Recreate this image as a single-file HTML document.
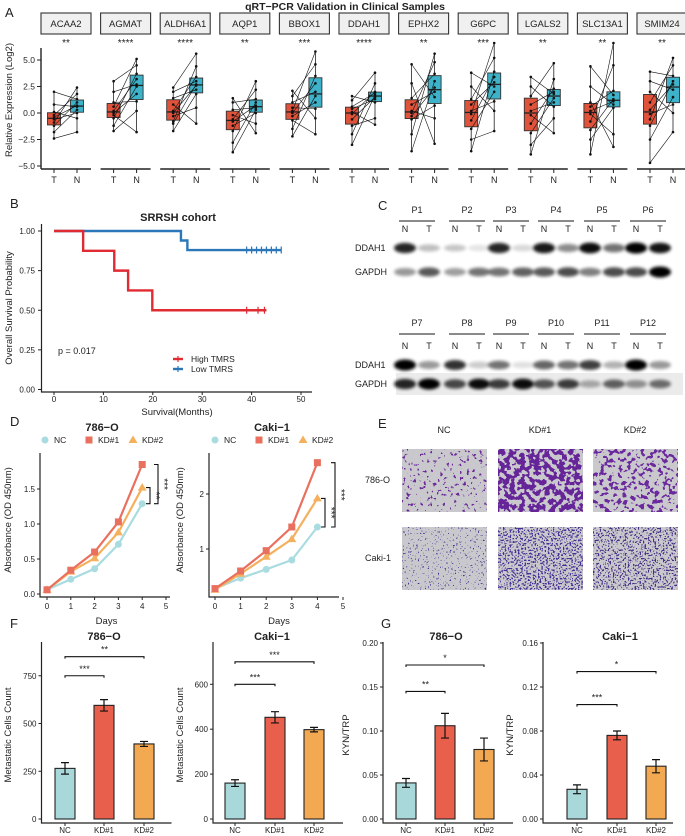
<!DOCTYPE html>
<html><head><meta charset="utf-8">
<style>
html,body{margin:0;padding:0;background:#fff;}
svg{display:block;font-family:"Liberation Sans",Arial,sans-serif;}
text{fill:#222;}
</style></head>
<body>
<svg id="fig" width="685" height="836" viewBox="0 0 685 836" xmlns="http://www.w3.org/2000/svg">
<defs>
<filter id="blur" x="-50%" y="-100%" width="200%" height="300%"><feGaussianBlur stdDeviation="1.5"/></filter>
<filter id="sp1" x="0" y="0" width="100%" height="100%" color-interpolation-filters="sRGB"><feTurbulence type="fractalNoise" baseFrequency="0.3" numOctaves="2" seed="3"/><feColorMatrix type="matrix" values="0 0 0 0 0.42 0 0 0 0 0.16 0 0 0 0 0.6 30 0 0 0 -19.5"/></filter>
<filter id="sp2" x="0" y="0" width="100%" height="100%" color-interpolation-filters="sRGB"><feTurbulence type="fractalNoise" baseFrequency="0.2" numOctaves="2" seed="5"/><feColorMatrix type="matrix" values="0 0 0 0 0.4 0 0 0 0 0.14 0 0 0 0 0.6 30 0 0 0 -14.1"/></filter>
<filter id="sp3" x="0" y="0" width="100%" height="100%" color-interpolation-filters="sRGB"><feTurbulence type="fractalNoise" baseFrequency="0.22" numOctaves="2" seed="7"/><feColorMatrix type="matrix" values="0 0 0 0 0.42 0 0 0 0 0.16 0 0 0 0 0.62 30 0 0 0 -16.8"/></filter>
<filter id="sp4" x="0" y="0" width="100%" height="100%" color-interpolation-filters="sRGB"><feTurbulence type="fractalNoise" baseFrequency="0.6" numOctaves="1" seed="9"/><feColorMatrix type="matrix" values="0 0 0 0 0.27 0 0 0 0 0.2 0 0 0 0 0.58 30 0 0 0 -19.5"/></filter>
<filter id="sp5" x="0" y="0" width="100%" height="100%" color-interpolation-filters="sRGB"><feTurbulence type="fractalNoise" baseFrequency="0.6" numOctaves="1" seed="11"/><feColorMatrix type="matrix" values="0 0 0 0 0.27 0 0 0 0 0.18 0 0 0 0 0.58 30 0 0 0 -16.5"/></filter>
<filter id="sp6" x="0" y="0" width="100%" height="100%" color-interpolation-filters="sRGB"><feTurbulence type="fractalNoise" baseFrequency="0.6" numOctaves="1" seed="13"/><feColorMatrix type="matrix" values="0 0 0 0 0.27 0 0 0 0 0.18 0 0 0 0 0.52 30 0 0 0 -16.8"/></filter>
</defs>
</svg>
<script>
// ---------- Panel A data ----------
const genes=["ACAA2","AGMAT","ALDH6A1","AQP1","BBOX1","DDAH1","EPHX2","G6PC","LGALS2","SLC13A1","SMIM24"];
const geneStars=["**","****","****","**","***","****","**","***","**","**","**"];
const tumorVals=[
[-2.4,-1.8,-1.2,-0.9,-0.6,-0.4,-0.2,0.1,0.8,2.0],
[-1.7,-1.2,-0.5,-0.2,0,0.2,0.6,1.0,2.0,3.0],
[-1.7,-1.0,-0.8,-0.3,0,0.2,0.8,1.4,2.0,2.4],
[-3.7,-2.8,-1.7,-1.2,-0.8,-0.6,-0.2,0.3,1.0,1.4],
[-2.2,-1.5,-0.7,-0.3,0,0.2,0.5,1.0,1.6,2.1],
[-3.0,-2.0,-1.2,-0.6,-0.1,0.1,0.4,0.6,1.2,1.6],
[-3.6,-2.0,-0.6,-0.3,0,0.2,0.8,1.4,2.8,4.6],
[-3.6,-2.5,-1.5,-0.7,-0.1,0.2,0.8,1.3,2.5,3.8],
[-3.9,-3.0,-1.9,-1.0,-0.2,0.2,0.8,1.6,2.5,3.4],
[-3.9,-2.5,-1.6,-0.8,-0.1,0.2,0.6,1.0,2.5,4.4],
[-4.7,-2.5,-1.2,-0.6,-0.1,0.3,1.0,2.0,3.0,3.9]];
const normalVals=[
[-1.8,-0.5,0.0,0.3,0.6,0.7,1.0,1.3,1.8,2.4],
[-1.8,0.2,1.1,1.8,2.5,2.7,3.2,3.7,4.5,5.1],
[-1.0,0.5,1.8,2.2,2.6,2.7,3.0,3.4,4.4,5.6],
[-1.9,-1.0,0,0.3,0.5,0.7,1.0,1.3,2.2,3.0],
[-2.0,-0.5,0.4,1.0,1.6,2.0,2.8,3.5,4.6,5.8],
[-1.1,-0.5,1.0,1.3,1.5,1.7,1.9,2.0,2.8,3.8],
[-2.9,-0.5,0.7,1.5,2.0,2.4,3.0,3.7,4.8,5.6],
[-1.7,0.2,1.1,2.0,2.5,2.9,3.4,3.9,5.2,6.6],
[-1.9,-0.5,0.6,1.0,1.4,1.8,2.0,2.3,3.2,4.7],
[-3.2,-2.0,0.5,0.8,1.1,1.3,1.7,2.1,4.5,6.6],
[-1.8,0,0.8,1.5,2.2,2.7,3.0,3.5,4.5,5.2]];
const aTicks=[5,2.5,0,-2.5,-5];
const aTickLabels=["5.0","2.5","0.0","\u22122.5","\u22125.0"];
// ---------- Panel B data ----------
const highTimes=[0,5.9,12.2,15,19.9,43];
const highSurv=[1,0.875,0.75,0.625,0.5,0.5];
const highCensor=[39,41.3,42.6];
const lowTimes=[0,25.7,27,46];
const lowSurv=[1,0.94,0.88,0.88];
const lowCensor=[39,40,41,42,43,44,45,46];
const bYTicks=[0,0.25,0.5,0.75,1];
const bYLabels=["0.00","0.25","0.50","0.75","1.00"];
const bXTicks=[0,10,20,30,40,50];
// ---------- Panel C data ----------
const blotTopLabels=["P1","P2","P3","P4","P5","P6"];
const blotBotLabels=["P7","P8","P9","P10","P11","P12"];
const ddahTop=[0.85,0.25,0.22,0.1,0.85,0.15,0.9,0.45,0.95,0.55,1,0.92];
const gapdhTop=[0.4,0.65,0.38,0.55,0.55,0.62,0.65,0.7,0.5,0.7,0.7,1];
const ddahBot=[1,0.4,0.8,0.2,0.55,0.12,0.6,0.55,0.75,0.3,1,0.4];
const gapdhBot=[0.85,1,0.7,0.95,0.75,0.95,0.65,0.75,0.3,0.6,0.4,0.55];
// ---------- Panel D data ----------
const days=[0,1,2,3,4];
const d786NC=[0.06,0.21,0.36,0.71,1.29];
const d786KD1=[0.06,0.34,0.60,1.03,1.85];
const d786KD2=[0.06,0.32,0.51,0.88,1.52];
const dCakiNC=[0.28,0.47,0.63,0.80,1.40];
const dCakiKD1=[0.28,0.60,0.97,1.40,2.57];
const dCakiKD2=[0.26,0.55,0.86,1.18,1.92];
// ---------- Panel F/G data ----------
const groups=["NC","KD#1","KD#2"];
const f786=[265,595,393]; const f786Err=[30,30,13];
const fCaki=[160,453,398]; const fCakiErr=[15,25,10];
const g786=[0.041,0.106,0.079]; const g786Err=[0.005,0.014,0.013];
const gCaki=[0.027,0.076,0.048]; const gCakiErr=[0.004,0.004,0.006];

const NS="http://www.w3.org/2000/svg";
const svg=document.getElementById('fig');
function mk(tag,a,p){const e=document.createElementNS(NS,tag);for(const k in a)e.setAttribute(k,a[k]);(p||svg).appendChild(e);return e;}
function tx(s,a,p){const e=mk('text',a,p);e.textContent=s;return e;}
function grp(p){return mk('g',{},p);}

// ===== Panel A =====
let t=tx("A",{x:5,y:17,"font-size":13});


t=tx("qRT\u2212PCR Validation in Clinical Samples",{x:345,y:10,"font-size":10.5,"font-weight":"bold","text-anchor":"middle"});


const yA=v=>113-v*10.6;
function q(arr,p){const s=[...arr].sort((a,b)=>a-b);const i=(s.length-1)*p;const lo=Math.floor(i),hi=Math.ceil(i);return s[lo]+(s[hi]-s[lo])*(i-lo);}
let ax=mk('line',{x1:41,y1:48,x2:41,y2:169,stroke:"#222","stroke-width":1.4});


aTicks.forEach((v,i)=>{
  const tk=mk('line',{x1:37,x2:41,y1:yA(v),y2:yA(v),stroke:"#222"});
  
  
  const tl=tx(aTickLabels[i],{x:35,y:yA(v)+3,"font-size":8.5,"text-anchor":"end",fill:"#444"});
  
  
});
t=tx("Relative Expression (Log2)",{x:12,y:100,"font-size":9.5,"text-anchor":"middle",transform:"rotate(-90 12 100)"});


genes.forEach((g,i)=>{
  const x0=41+i*59.6, xT=x0+13, xN=x0+36;
  const gg=grp();
  
  
  const st=mk('rect',{x:x0,y:13,width:50,height:21,fill:"#F0F0F0",stroke:"#333","stroke-width":1.1},gg);
  
  
  const sl=tx(g,{x:x0+25,y:27,"font-size":9.5,"text-anchor":"middle",fill:"#333"},gg);
  
  
  const ss=tx(geneStars[i],{x:x0+25,y:46,"font-size":10,"text-anchor":"middle"},gg);
  
  
  const bl=mk('line',{x1:x0,x2:x0+50,y1:169,y2:169,stroke:"#222","stroke-width":1.6},gg);
  
  
  [[xT,"T"],[xN,"N"]].forEach(([xx,l])=>{
    const tk=mk('line',{x1:xx,x2:xx,y1:169,y2:173,stroke:"#222"},gg);
    
    
    const lb=tx(l,{x:xx,y:183,"font-size":9,"text-anchor":"middle"},gg);
    
    
  });
  [[tumorVals[i],xT,"#E0533B","tumor"],[normalVals[i],xN,"#3DB2C9","normal"]].forEach(([vals,xc,col,nm])=>{
    const lo=Math.min(...vals),hi=Math.max(...vals),q1=q(vals,0.25),md=q(vals,0.5),q3=q(vals,0.75);
    const w=mk('line',{x1:xc,x2:xc,y1:yA(hi),y2:yA(lo),stroke:"#222","stroke-width":0.8},gg);
    
    
    const b=mk('rect',{x:xc-6.5,y:yA(q3),width:13,height:yA(q1)-yA(q3),fill:col,stroke:"#333","stroke-width":0.9},gg);
    
    
    const m=mk('line',{x1:xc-6.5,x2:xc+6.5,y1:yA(md),y2:yA(md),stroke:"#222","stroke-width":1.3},gg);
    
    
  });
  const tv=tumorVals[i], nv=normalVals[i];
  tv.forEach((v,k)=>{
    const nvv=nv[(k*3+i)%nv.length];
    const ln=mk('line',{x1:xT,y1:yA(v),x2:xN,y2:yA(nvv),stroke:"#111","stroke-width":0.6},gg);
    
    
    const p1=mk('circle',{cx:xT,cy:yA(v),r:1.3,fill:"#111"},gg);
    
    
    const p2=mk('circle',{cx:xN,cy:yA(nvv),r:1.3,fill:"#111"},gg);
    
    
  });
});

// ===== Panel B =====
const xB=m=>54+m*4.94, yB=s=>389.5-s*158.5;
t=tx("B",{x:10,y:208,"font-size":13});


t=tx("SRRSH cohort",{x:178,y:221,"font-size":11,"font-weight":"bold","text-anchor":"middle"});


ax=mk('path',{d:"M41.5,224 V392 H312",fill:"none",stroke:"#222","stroke-width":1.2});


bYTicks.forEach((v,i)=>{
  const tk=mk('line',{x1:38,x2:41.5,y1:yB(v),y2:yB(v),stroke:"#222"});
  
  
  const tl=tx(bYLabels[i],{x:35,y:yB(v)+3,"font-size":8,"text-anchor":"end",fill:"#444"});
  
  
});
bXTicks.forEach(v=>{
  const tk=mk('line',{x1:xB(v),x2:xB(v),y1:392,y2:395,stroke:"#222"});
  
  
  const tl=tx(String(v),{x:xB(v),y:402,"font-size":8,"text-anchor":"middle",fill:"#444"});
  
  
});
t=tx("Survival(Months)",{x:177,y:415,"font-size":9.5,"text-anchor":"middle"});


t=tx("Overall Survival Probability",{x:12,y:308,"font-size":9.5,"text-anchor":"middle",transform:"rotate(-90 12 308)"});


function stepPath(times,surv){let d=`M${xB(times[0])},${yB(surv[0])}`;for(let i=1;i<times.length;i++){d+=` H${xB(times[i])} V${yB(surv[i])}`;}return d;}
[[lowTimes,lowSurv,lowCensor,"#2B77B8","low-tmrs"],[highTimes,highSurv,highCensor,"#E02B33","high-tmrs"]].forEach(([tm,sv,cs,col,nm])=>{
  const c=mk('path',{d:stepPath(tm,sv),fill:"none",stroke:col,"stroke-width":2.4});
  
  
  const last=sv[sv.length-1];
  cs.forEach(m=>{
    const k=mk('line',{x1:xB(m),x2:xB(m),y1:yB(last)-3.5,y2:yB(last)+3.5,stroke:col,"stroke-width":1.2});
    
    
  });
});
t=tx("p = 0.017",{x:58,y:354,"font-size":9});


[["High TMRS","#E02B33",359],["Low TMRS","#2B77B8",369]].forEach(([l,c,y])=>{
  const lg=grp();
  
  
  mk('line',{x1:173,x2:183,y1:y,y2:y,stroke:c,"stroke-width":2.4},lg);
  mk('line',{x1:178,x2:178,y1:y-3,y2:y+3,stroke:c,"stroke-width":1.2},lg);
  tx(l,{x:191,y:y+3,"font-size":8.5},lg);
});

// ===== Panel C =====
t=tx("C",{x:378,y:210,"font-size":13});


const laneN=[405,455,499,544,590,636];
function blot(labels,ddah,gapdh,yLab,yNT,yD,yG,nm,shade){
  const bg=grp();
  
  
  if(shade) mk('rect',{x:396,y:yG-11,width:287,height:22,fill:"#EBEBEB"},bg);
  labels.forEach((l,i)=>{
    const cx=laneN[i]+12;
    tx(l,{x:cx,y:yLab,"font-size":9,"text-anchor":"middle"},bg);
    mk('line',{x1:cx-18,x2:cx+18,y1:yLab+8,y2:yLab+8,stroke:"#444","stroke-width":1.2},bg);
    tx("N",{x:laneN[i],y:yNT,"font-size":9,"text-anchor":"middle"},bg);
    tx("T",{x:laneN[i]+24,y:yNT,"font-size":9,"text-anchor":"middle"},bg);
  });
  tx("DDAH1",{x:355,y:yD+3,"font-size":9},bg);
  tx("GAPDH",{x:355,y:yG+3,"font-size":9},bg);
  [[ddah,yD,"ddah1-band"],[gapdh,yG,"gapdh-band"]].forEach(([arr,yy,bn])=>{
    arr.forEach((v,k)=>{
      const cx=laneN[Math.floor(k/2)]+(k%2)*24;
      const e=mk('ellipse',{cx:cx,cy:yy,rx:11,ry:3+v*2.5,fill:"#000",opacity:v,filter:"url(#blur)"},bg);
      
      
    });
  });
}
blot(blotTopLabels,ddahTop,gapdhTop,213,232,248,272,'western-blot-top',false);
blot(blotBotLabels,ddahBot,gapdhBot,326,349,365,384,'western-blot-bottom',true);

// ===== Panel D =====
t=tx("D",{x:10,y:426,"font-size":13});


const dCols={NC:"#A9DCE0",KD1:"#E9705F",KD2:"#F5B05E"};
function marker(type,x,y,col,p){
  if(type==0)return mk('circle',{cx:x,cy:y,r:3.5,fill:col},p);
  if(type==1)return mk('rect',{x:x-3.5,y:y-3.5,width:7,height:7,fill:col},p);
  return mk('path',{d:`M${x},${y-4.5} L${x+4.5},${y+3} L${x-4.5},${y+3}Z`,fill:col},p);
}
function growth(title,cx,axX,xf,yf,yTicks,yLabels,series,yTop,br,nm){
  const g=grp();
  
  
  tx(title,{x:cx,y:431,"font-size":11,"font-weight":"bold","text-anchor":"middle"},g);
  const leg=[["NC",0,dCols.NC],["KD#1",1,dCols.KD1],["KD#2",2,dCols.KD2]];
  leg.forEach(([l,ty,c],i)=>{
    const lx=cx-57+i*44;
    marker(ty,lx,440,c,g);
    tx(l,{x:lx+9,y:443,"font-size":8.5},g);
  });
  mk('path',{d:`M${axX},${yTop} V597 H${axX+130}`,fill:"none",stroke:"#222","stroke-width":1.2},g);
  yTicks.forEach((v,i)=>{
    mk('line',{x1:axX-3,x2:axX,y1:yf(v),y2:yf(v),stroke:"#222"},g);
    tx(yLabels[i],{x:axX-5,y:yf(v)+3,"font-size":8,"text-anchor":"end",fill:"#444"},g);
  });
  [0,1,2,3,4,5].forEach(d=>{
    mk('line',{x1:xf(d),x2:xf(d),y1:597,y2:600,stroke:"#222"},g);
    tx(String(d),{x:xf(d),y:609,"font-size":8,"text-anchor":"middle",fill:"#444"},g);
  });
  tx("Days",{x:xf(2.5),y:624,"font-size":9.5,"text-anchor":"middle"},g);
  series.forEach(([vals,ty,c,sn])=>{
    const pts=days.map((d,i)=>`${xf(d)},${yf(vals[i])}`).join(' ');
    const pl=mk('polyline',{points:pts,fill:"none",stroke:c,"stroke-width":2.2},g);
    
    
    days.forEach((d,i)=>{
      const mm=marker(ty,xf(d),yf(vals[i]),c,g);
      
      
    });
  });
  br.forEach(([bx,v1,v2,s])=>{
    const b=mk('path',{d:`M${bx-4},${yf(v1)} H${bx} V${yf(v2)} H${bx-4}`,fill:"none",stroke:"#111","stroke-width":1.1},g);
    
    
    const my=(yf(v1)+yf(v2))/2;
    tx(s,{x:bx+3,y:my,"font-size":10,"text-anchor":"middle",transform:`rotate(90 ${bx+3} ${my})`},g);
  });
}
const xD1=d=>47+d*23.8, yD1=v=>594-v*70;
growth("786\u2212O",102,40,xD1,yD1,[0,0.5,1,1.5],["0.0","0.5","1.0","1.5"],
  [[d786NC,0,dCols.NC,'nc'],[d786KD2,2,dCols.KD2,'kd2'],[d786KD1,1,dCols.KD1,'kd1']],453,
  [[158,d786KD1[4],d786NC[4],"***"],[150,d786KD2[4],d786NC[4],"**"]],'growth-786o');
t=tx("Absorbance (OD 450nm)",{x:11,y:520,"font-size":9.5,"text-anchor":"middle",transform:"rotate(-90 11 520)"});


const xD2=d=>215+d*25.6, yD2=v=>604-v*55;
growth("Caki\u22121",272,209,xD2,yD2,[1,2],["1","2"],
  [[dCakiNC,0,dCols.NC,'nc'],[dCakiKD2,2,dCols.KD2,'kd2'],[dCakiKD1,1,dCols.KD1,'kd1']],453,
  [[335,dCakiKD1[4],dCakiNC[4],"***"],[325,dCakiKD2[4],dCakiNC[4],"***"]],'growth-caki1');
t=tx("Absorbance (OD 450nm)",{x:183,y:520,"font-size":9.5,"text-anchor":"middle",transform:"rotate(-90 183 520)"});



// ===== Panel E =====
t=tx("E",{x:378,y:428,"font-size":13});


const eCols=[402,498,593], eRows=[449,527];
["NC","KD#1","KD#2"].forEach((l,i)=>{
  const c=tx(l,{x:eCols[i]+42,y:433,"font-size":9,"text-anchor":"middle"});
  
  
});
["786-O","Caki-1"].forEach((l,i)=>{
  const c=tx(l,{x:365,y:eRows[i]+34,"font-size":9});
  
  
});
const eFilters=[["sp1","sp2","sp3"],["sp4","sp5","sp6"]];
eRows.forEach((ry,r)=>eCols.forEach((cx,c)=>{
  const ig=grp();
  
  
  mk('rect',{x:cx,y:ry,width:85,height:63,fill:"#C9C8CC"},ig);
  mk('rect',{x:cx,y:ry,width:85,height:63,fill:"#000",filter:`url(#${eFilters[r][c]})`},ig);
}));

// ===== Panels F & G =====
const bCols=["#A8D8DA","#E8604C","#F3A952"];
function barChart(o){
  const g=grp();
  
  
  tx(o.title,{x:o.tx,y:640,"font-size":11,"font-weight":"bold","text-anchor":"middle"},g);
  mk('path',{d:`M${o.axX},642 V823 H${o.axX+130}`,fill:"none",stroke:"#222","stroke-width":1.2},g);
  o.ticks.forEach((v,i)=>{
    mk('line',{x1:o.axX-3,x2:o.axX,y1:o.yf(v),y2:o.yf(v),stroke:"#222"},g);
    tx(o.tickLabels[i],{x:o.axX-5,y:o.yf(v)+3,"font-size":8,"text-anchor":"end",fill:"#444"},g);
  });
  const yt=tx(o.yTitle,{x:o.ytX,y:735,"font-size":9.5,"text-anchor":"middle",transform:`rotate(-90 ${o.ytX} 735)`},g);
  
  
  groups.forEach((gr,i)=>{
    const cx=o.bx[i];
    const b=mk('rect',{x:cx-10,y:o.yf(o.vals[i]),width:20,height:o.yf(0)-o.yf(o.vals[i]),fill:bCols[i],stroke:"#222","stroke-width":1.1},g);
    
    
    const hi=o.yf(o.vals[i]+o.errs[i]), lo=o.yf(o.vals[i]-o.errs[i]);
    const e=mk('path',{d:`M${cx-4},${hi} H${cx+4} M${cx},${hi} V${lo} M${cx-4},${lo} H${cx+4}`,stroke:"#111","stroke-width":1.2,fill:"none"},g);
    
    
    mk('line',{x1:cx,x2:cx,y1:823,y2:826,stroke:"#222"},g);
    tx(gr,{x:cx,y:833,"font-size":8,"text-anchor":"middle",fill:"#333"},g);
  });
  o.sig.forEach(([a,b2,v,s])=>{
    const y=o.yf(v);
    const br=mk('path',{d:`M${o.bx[a]},${y+2} V${y} H${o.bx[b2]} V${y+2}`,fill:"none",stroke:"#111","stroke-width":1.1},g);
    
    
    tx(s,{x:(o.bx[a]+o.bx[b2])/2,y:y-4,"font-size":9,"text-anchor":"middle"},g);
  });
}
t=tx("F",{x:10,y:628,"font-size":13});


t=tx("G",{x:381,y:628,"font-size":13});


barChart({nm:'migration-786o',title:"786\u2212O",tx:104,axX:41.5,yf:v=>819-v*0.191,ticks:[0,250,500,750],tickLabels:["0","250","500","750"],
  yTitle:"Metastatic Cells Count",ytX:11,bx:[65,104,144],vals:f786,errs:f786Err,sig:[[0,1,750,"***"],[0,2,850,"**"]]});
barChart({nm:'migration-caki1',title:"Caki\u22121",tx:272,axX:213,yf:v=>819-v*0.2245,ticks:[0,200,400,600],tickLabels:["0","200","400","600"],
  yTitle:"Metastatic Cells Count",ytX:183,bx:[235,275,314],vals:fCaki,errs:fCakiErr,sig:[[0,1,600,"***"],[0,2,700,"***"]]});
barChart({nm:'kyn-trp-786o',title:"786\u2212O",tx:446,axX:383,yf:v=>819-v*880,ticks:[0,0.05,0.1,0.15,0.2],tickLabels:["0.00","0.05","0.10","0.15","0.20"],
  yTitle:"KYN/TRP",ytX:349,bx:[406,445,484],vals:g786,errs:g786Err,sig:[[0,1,0.145,"**"],[0,2,0.175,"*"]]});
barChart({nm:'kyn-trp-caki1',title:"Caki\u22121",tx:620,axX:543,yf:v=>819-v*1100,ticks:[0,0.04,0.08,0.12,0.16],tickLabels:["0.00","0.04","0.08","0.12","0.16"],
  yTitle:"KYN/TRP",ytX:513,bx:[577,617,656],vals:gCaki,errs:gCakiErr,sig:[[0,1,0.104,"***"],[0,2,0.134,"*"]]});
</script>
</body></html>
